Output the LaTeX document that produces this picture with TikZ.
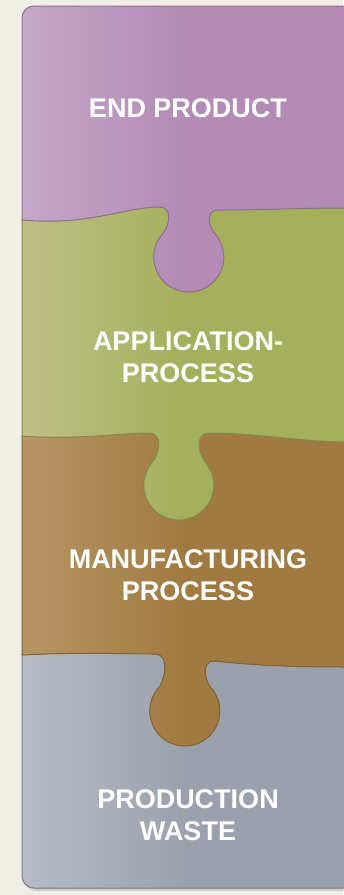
\documentclass[tikz,border=0pt]{standalone}
\usepackage{fontspec}
\setmainfont{Liberation Sans}
\definecolor{bg}{RGB}{239,239,227}
\definecolor{purpleM}{RGB}{179,139,181}
\definecolor{purpleL}{RGB}{198,168,200}
\definecolor{greenM}{RGB}{164,176,92}
\definecolor{greenL}{RGB}{190,193,134}
\definecolor{brownM}{RGB}{160,122,64}
\definecolor{brownL}{RGB}{183,149,102}
\definecolor{grayM}{RGB}{155,161,172}
\definecolor{grayL}{RGB}{184,188,198}
\begin{document}
\begin{tikzpicture}[x=1pt,y=1pt,
  puzzletab/.style n args={4}{insert path={-- ({#1-30},{-#3}) .. controls ({#1-14},{-#3}) and ({#1-21},{-(#2-28)}) .. ({#1-27},{-(#2-22.5)}) arc[start angle=140,end angle=400,radius=35] .. controls ({#1+21},{-(#2-28)}) and ({#1+14},{-#4}) .. ({#1+30},{-#4})}},
  bndA/.style={insert path={.. controls (90,-226) and (125,-207) .. (159,-207) [puzzletab={189}{257}{207}{210}] .. controls (260,-210) and (300,-208) .. (350,-208)}},
  bndB/.style={insert path={.. controls (80,-440) and (120,-433) .. (149,-433) [puzzletab={179}{485}{433}{433}] .. controls (260,-433) and (300,-442) .. (350,-442)}},
  bndC/.style={insert path={.. controls (80,-652) and (125,-654) .. (155,-654) [puzzletab={185}{711}{654}{661}] .. controls (260,-666) and (300,-667) .. (350,-667)}},
  piecefill/.style n args={2}{left color=#1, right color=#2, middle color=#2},
  pieceedge/.style={draw=#1!80!black, line width=1pt},
  piecetext/.style={text=white, font=\bfseries\fontsize{27}{32}\selectfont, align=center, inner sep=0pt}]
\useasboundingbox (0,0) rectangle (343,-895);
\fill[bg] (0,0) rectangle (343,-895);
% drop shadow
\fill[black, opacity=0.12] (23,-600) -- (350,-600) -- (350,-891) -- (36,-891) arc[start angle=270,end angle=180,radius=12] -- cycle;
% production waste
\fill[piecefill={grayL}{grayM}] (22,-600) -- (350,-600) -- (350,-888) -- (34,-888) arc[start angle=270,end angle=180,radius=12] -- cycle;
\draw[pieceedge=grayM] (22,-654) -- (22,-876) arc[start angle=180,end angle=270,radius=12] -- (350,-888);
% manufacturing
\fill[piecefill={brownL}{brownM}] (22,-400) -- (22,-655) [bndC] -- (350,-400) -- cycle;
\draw[pieceedge=brownM] (22,-435) -- (22,-655) [bndC];
% application
\fill[piecefill={greenL}{greenM}] (22,-180) -- (22,-436) [bndB] -- (350,-180) -- cycle;
\draw[pieceedge=greenM] (22,-219) -- (22,-436) [bndB];
% end product
\fill[piecefill={purpleL}{purpleM}] (22,-220) [bndA] -- (350,-6) -- (34,-6) arc[start angle=90,end angle=180,radius=12] -- cycle;
\draw[pieceedge=purpleM] (22,-220) [bndA] -- (350,-6) -- (34,-6) arc[start angle=90,end angle=180,radius=12] -- cycle;
\node[piecetext] (endp) at (188,-108.5) {END PRODUCT};
\node[piecetext] (app) at (188,-357.5) {APPLICATION-\\PROCESS};
\node[piecetext] (man) at (188,-575) {MANUFACTURING\\PROCESS};
\node[piecetext] (waste) at (188,-815) {PRODUCTION\\WASTE};
\end{tikzpicture}
\end{document}
